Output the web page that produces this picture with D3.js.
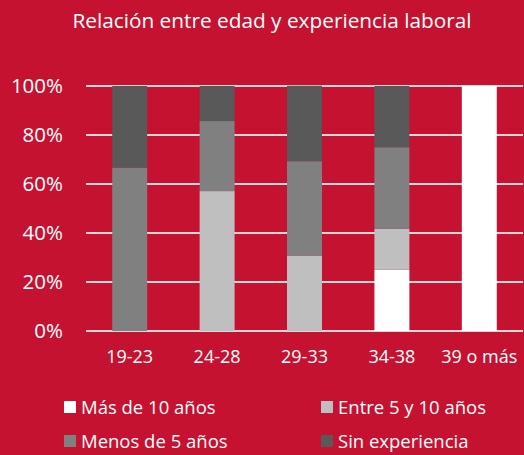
<!DOCTYPE html>
<html>
<head>
<meta charset="utf-8">
<script src="https://cdn.jsdelivr.net/npm/d3@7"></script>
<style>
  body { margin: 0; background: #C41230; }
  svg { display: block; font-family: "Open Sans", sans-serif; }
</style>
</head>
<body>
<div id="chart"></div>
<script>
'use strict'

const categories = ["19-23", "24-28", "29-33", "34-38", "39 o más"]
const series = ["Más de 10 años", "Entre 5 y 10 años", "Menos de 5 años", "Sin experiencia"]
const masDe10 = [0, 0, 0, 25, 100]
const entre5y10 = [0, 57.1, 30.8, 16.7, 0]
const menosDe5 = [66.7, 28.6, 38.5, 33.3, 0]
const sinExp = [33.3, 14.3, 30.8, 25, 0]
const yTicks = [0, 20, 40, 60, 80, 100]
const colors = ["#FFFFFF", "#BFBFBF", "#808080", "#595959"]

function draw() {
	let width = 524, height = 455
	let margin = {left: 86, right: 1, top: 86, bottom: 124}

	let svg = d3.select("#chart").append("svg")
		.attr("width", width)
		.attr("height", height)

	svg.append("rect").attr("width", width).attr("height", height).attr("fill", "#C41230")

	svg.append("text")
		.attr("x", 272).attr("y", 28)
		.attr("text-anchor", "middle")
		.attr("fill", "#fff")
		.style("font-size", "20.8px")
		.text("Relación entre edad y experiencia laboral")

	let x = d3.scaleBand().domain(categories)
		.range([margin.left, width - margin.right])
		.paddingInner(0.6).paddingOuter(0.3)
	let y = d3.scaleLinear().domain([0, 100])
		.range([height - margin.bottom, margin.top])

	// gridlines
	svg.append("g").selectAll("line").data(yTicks).join("line")
		.attr("x1", margin.left).attr("x2", width - margin.right)
		.attr("y1", d => y(d)).attr("y2", d => y(d))
		.attr("stroke", "#D9D9D9").attr("stroke-width", 2)

	let rows = categories.map(function(c, i){
		return {cat: c, v0: masDe10[i], v1: entre5y10[i], v2: menosDe5[i], v3: sinExp[i]}
	})
	let stacked = d3.stack().keys(["v0", "v1", "v2", "v3"])(rows)

	svg.append("g").selectAll("g").data(stacked).join("g")
		.attr("fill", (d, i) => colors[i])
		.selectAll("rect").data(d => d.filter(p => p[1] - p[0] > 0)).join("rect")
		.attr("x", d => x(d.data.cat))
		.attr("width", x.bandwidth())
		.attr("y", d => y(d[1]))
		.attr("height", d => y(d[0]) - y(d[1]))

	// y axis labels
	svg.append("g").selectAll("text").data(yTicks).join("text")
		.attr("x", 63).attr("y", d => y(d))
		.attr("dy", "0.36em")
		.attr("text-anchor", "end")
		.attr("fill", "#fff")
		.style("font-size", "20.5px")
		.text(d => d + "%")

	// x axis labels
	svg.append("g").selectAll("text").data(categories).join("text")
		.attr("x", d => x(d) + x.bandwidth() / 2)
		.attr("y", 357).attr("dy", "0.36em")
		.attr("text-anchor", "middle")
		.attr("fill", "#fff")
		.style("font-size", "18px")
		.text(d => d)

	// legend
	let legPos = [[64, 407], [321, 407], [64, 441], [321, 441]]
	let leg = svg.append("g").selectAll("g").data(series).join("g")
		.attr("transform", (d, i) => "translate(" + legPos[i][0] + "," + legPos[i][1] + ")")
	leg.append("rect").attr("x", 0).attr("y", -6).attr("width", 12).attr("height", 12)
		.attr("fill", (d, i) => colors[i])
	leg.append("text").attr("x", 17).attr("dy", "0.36em")
		.attr("fill", "#fff")
		.style("font-size", "18.5px")
		.text(d => d)
}

draw()
</script>
</body>
</html>
